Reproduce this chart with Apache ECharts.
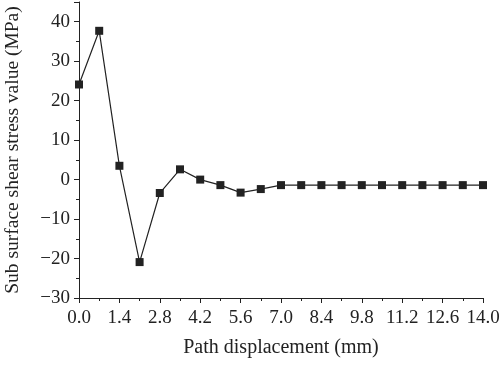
<!DOCTYPE html>
<html><head><meta charset="utf-8">
<script src="https://cdn.jsdelivr.net/npm/echarts@6/dist/echarts.min.js"></script>
<style>html,body{margin:0;padding:0;background:#fff}#c{width:500px;height:365px}</style>
</head><body><div id="c"></div>
<script>
const xValues = [0.0,0.7,1.4,2.1,2.8,3.5,4.2,4.9,5.6,6.3,7.0,7.7,8.4,9.1,9.8,10.5,11.2,11.9,12.6,13.3,14.0];
const stress = [24.1,37.7,3.5,-20.9,-3.4,2.6,0.0,-1.4,-3.3,-2.4,-1.4,-1.4,-1.4,-1.4,-1.4,-1.4,-1.4,-1.4,-1.4,-1.4,-1.4];
const xName = 'Path displacement (mm)';
const yName = 'Sub surface shear stress value (MPa)';
const font = '"Liberation Serif", "DejaVu Serif", serif';
const chart = echarts.init(document.getElementById('c'));
chart.setOption({
  animation:false,
  grid:{left:79,right:17,top:2,bottom:67,containLabel:false,outerBoundsMode:'none'},
  xAxis:{type:'value',min:0,max:14,interval:1.4,
    name:xName,nameLocation:'middle',nameGap:40,
    nameTextStyle:{fontFamily:font,fontSize:20,color:'#222'},
    axisLine:{onZero:false,lineStyle:{color:'#222',width:1}},
    axisTick:{inside:false,length:5,lineStyle:{color:'#222'}},
    minorTick:{show:true,splitNumber:2,length:3,lineStyle:{color:'#222'}},
    splitLine:{show:false},
    axisLabel:{fontFamily:font,fontSize:19,color:'#222',margin:11,hideOverlap:false,formatter:v=>v.toFixed(1)}
  },
  yAxis:{type:'value',min:-30,max:45,interval:10,
    name:yName,nameLocation:'middle',nameGap:56,
    nameTextStyle:{fontFamily:font,fontSize:19.5,color:'#222'},
    axisLine:{show:true,onZero:false,lineStyle:{color:'#222',width:1}},
    axisTick:{show:true,inside:false,length:5,lineStyle:{color:'#222'}},
    minorTick:{show:true,splitNumber:2,length:3,lineStyle:{color:'#222'}},
    splitLine:{show:false},
    axisLabel:{fontFamily:font,fontSize:19,color:'#222',margin:9,
      formatter:v=>(v>40?'':(v<0?'\u2212'+Math.abs(v):String(v)))}
  },
  series:[{type:'line',data:xValues.map((x,i)=>[x,stress[i]]),
    symbol:'rect',symbolSize:8,
    lineStyle:{color:'#222',width:1.2},
    itemStyle:{color:'#222'}
  }]
});
</script></body></html>
